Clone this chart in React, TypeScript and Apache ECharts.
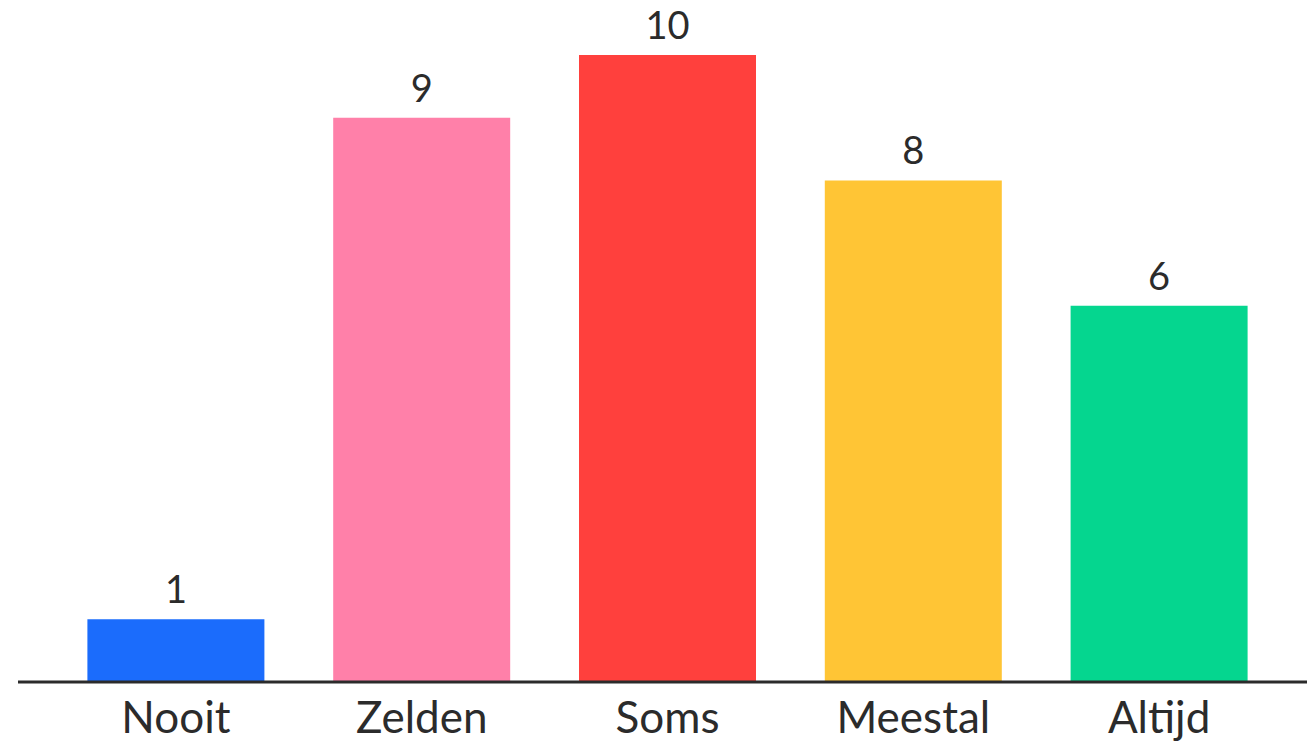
import React, { useEffect, useRef } from "react";
import * as echarts from "echarts";

const categories = ["Nooit", "Zelden", "Soms", "Meestal", "Altijd"];
const values = [1, 9, 10, 8, 6];
const colors = ["#1b6cfc", "#ff80a9", "#ff403d", "#ffc535", "#05d68f"];

export default function App() {
  const ref = useRef<HTMLDivElement>(null);
  useEffect(() => {
    if (!ref.current) return;
    const chart = echarts.init(ref.current, null, { renderer: "svg" });
    chart.setOption({
      animation: false,
      backgroundColor: "#ffffff",
      grid: { left: 53, right: 25, top: 55, bottom: 59, containLabel: false },
      xAxis: {
        type: "category",
        data: categories,
        axisLine: { show: false },
        axisTick: { show: false },
        axisLabel: {
          color: "#2b2b2b",
          fontSize: 44,
          fontFamily: "Lato, 'Noto Sans', sans-serif",
          margin: 12,
        },
      },
      yAxis: {
        type: "value",
        min: 0,
        max: 10,
        show: false,
      },
      graphic: [
        {
          type: "line",
          shape: { x1: 18, y1: 682, x2: 1307, y2: 682 },
          style: { stroke: "#2b2b2b", lineWidth: 3 },
          z: 10,
        },
      ],
      series: [
        {
          type: "bar",
          data: values.map((v, i) => ({ value: v, itemStyle: { color: colors[i] } })),
          barWidth: 177,
          label: {
            show: true,
            position: "top",
            distance: 12,
            color: "#2b2b2b",
            fontSize: 38,
            fontFamily: "Lato, 'Noto Sans', sans-serif",
          },
        },
      ],
    });
    return () => chart.dispose();
  }, []);
  return (
    <div
      ref={ref}
      style={{ position: "fixed", left: 0, top: 0, width: 1307, height: 741 }}
    />
  );
}
